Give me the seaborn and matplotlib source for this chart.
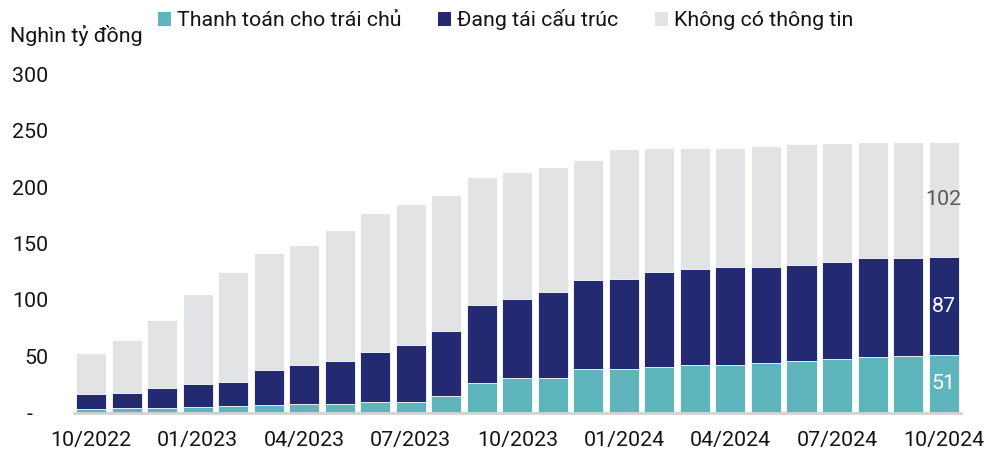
import pandas as pd
import matplotlib
matplotlib.use("Agg")
import matplotlib.pyplot as plt
import seaborn as sns
from matplotlib.patches import Patch

# data (nghìn tỷ đồng)
months = ["10/2022", "11/2022", "12/2022", "01/2023", "02/2023", "03/2023", "04/2023",
          "05/2023", "06/2023", "07/2023", "08/2023", "09/2023", "10/2023", "11/2023",
          "12/2023", "01/2024", "02/2024", "03/2024", "04/2024", "05/2024", "06/2024",
          "07/2024", "08/2024", "09/2024", "10/2024"]
paid = [3.0, 3.8, 4.4, 5.3, 5.9, 6.8, 7.7, 7.7, 9.8, 9.8, 14.8, 26.0, 30.4, 31.0,
        38.4, 39.0, 40.2, 42.3, 42.3, 43.7, 45.5, 47.3, 49.7, 50.5, 51]
restructuring = [13.6, 13.6, 17.2, 20.1, 21.3, 31.3, 34.3, 38.1, 44.0, 50.2, 57.3, 69.5,
                 70.1, 76.0, 79.0, 79.5, 84.2, 85.4, 86.6, 85.8, 85.5, 86.3, 87.2, 86.4, 87]
no_info = [36.0, 46.7, 60.3, 79.5, 97.5, 103.5, 106.7, 115.9, 123.0, 125.3, 120.6, 113.2,
           112.9, 110.6, 106.7, 115.0, 110.0, 107.3, 106.1, 106.7, 107.2, 105.8, 103.1,
           103.1, 102]
series_names = ["Thanh toán cho trái chủ", "Đang tái cấu trúc", "Không có thông tin"]
colors = ["#5FB5BC", "#232A72", "#E2E3E5"]

df = pd.DataFrame({"month": months, "paid": paid,
                   "restructuring": restructuring, "no_info": no_info})
df["cum_restr"] = df["paid"] + df["restructuring"]
df["total"] = df["cum_restr"] + df["no_info"]

sns.set_style("white")
plt.rcParams["font.family"] = ["Roboto", "DejaVu Sans"]
fs = 15.4
txt = "#141414"

fig = plt.figure(figsize=(9.84, 4.5), dpi=100)
ax = fig.add_axes([74 / 984, 1 - 412.7 / 450, (961 - 74) / 984, (412.7 - 74.3) / 450])

# layered bars give the stacked look
for col, c in [("total", colors[2]), ("cum_restr", colors[1]), ("paid", colors[0])]:
    sns.barplot(data=df, x="month", y=col, color=c, width=0.845, ax=ax,
                edgecolor="white", linewidth=0.6, saturation=1)

ax.set_ylim(0, 300)
ax.set_xlim(-0.48, len(months) - 0.51)
ax.set_yticks([0, 50, 100, 150, 200, 250, 300])
ax.set_yticklabels(["-   ", "50", "100", "150", "200", "250", "300"])
ticks = list(range(0, len(months), 3))
ax.set_xticks(ticks)
ax.set_xticklabels([months[i] for i in ticks])
ax.tick_params(axis="y", length=0, pad=18.5, labelsize=fs, labelcolor=txt)
ax.tick_params(axis="x", length=0, pad=13.5, labelsize=fs, labelcolor=txt)
ax.set_xlabel("")
ax.set_ylabel("")
for s in ["top", "right", "left"]:
    ax.spines[s].set_visible(False)
ax.spines["bottom"].set_color("#D3D3D3")
ax.spines["bottom"].set_linewidth(2)

# labels on the last bar
last = len(months) - 1
ax.text(last, paid[-1] / 2, f"{paid[-1]:.0f}", ha="center", va="center",
        color="white", fontsize=fs)
ax.text(last, paid[-1] + restructuring[-1] / 2, f"{restructuring[-1]:.0f}",
        ha="center", va="center", color="white", fontsize=fs)
ax.text(last, df["cum_restr"].iloc[-1] + no_info[-1] / 2, f"{no_info[-1]:.0f}",
        ha="center", va="center", color="#595959", fontsize=fs)

fig.text(10 / 984, 1 - 35 / 450, "Nghìn tỷ đồng", ha="left", va="center",
         fontsize=fs, color=txt)

handles = [Patch(facecolor=c, edgecolor="none") for c in colors]
fig.legend(handles, series_names, loc="center left",
           bbox_to_anchor=(158 / 984, 1 - 20 / 450), ncol=3, frameon=False,
           fontsize=fs, handlelength=0.6, handleheight=0.6, handletextpad=0.3,
           columnspacing=1.7, borderpad=0, borderaxespad=0, labelcolor=txt)

fig.savefig("out.png", dpi=100)
